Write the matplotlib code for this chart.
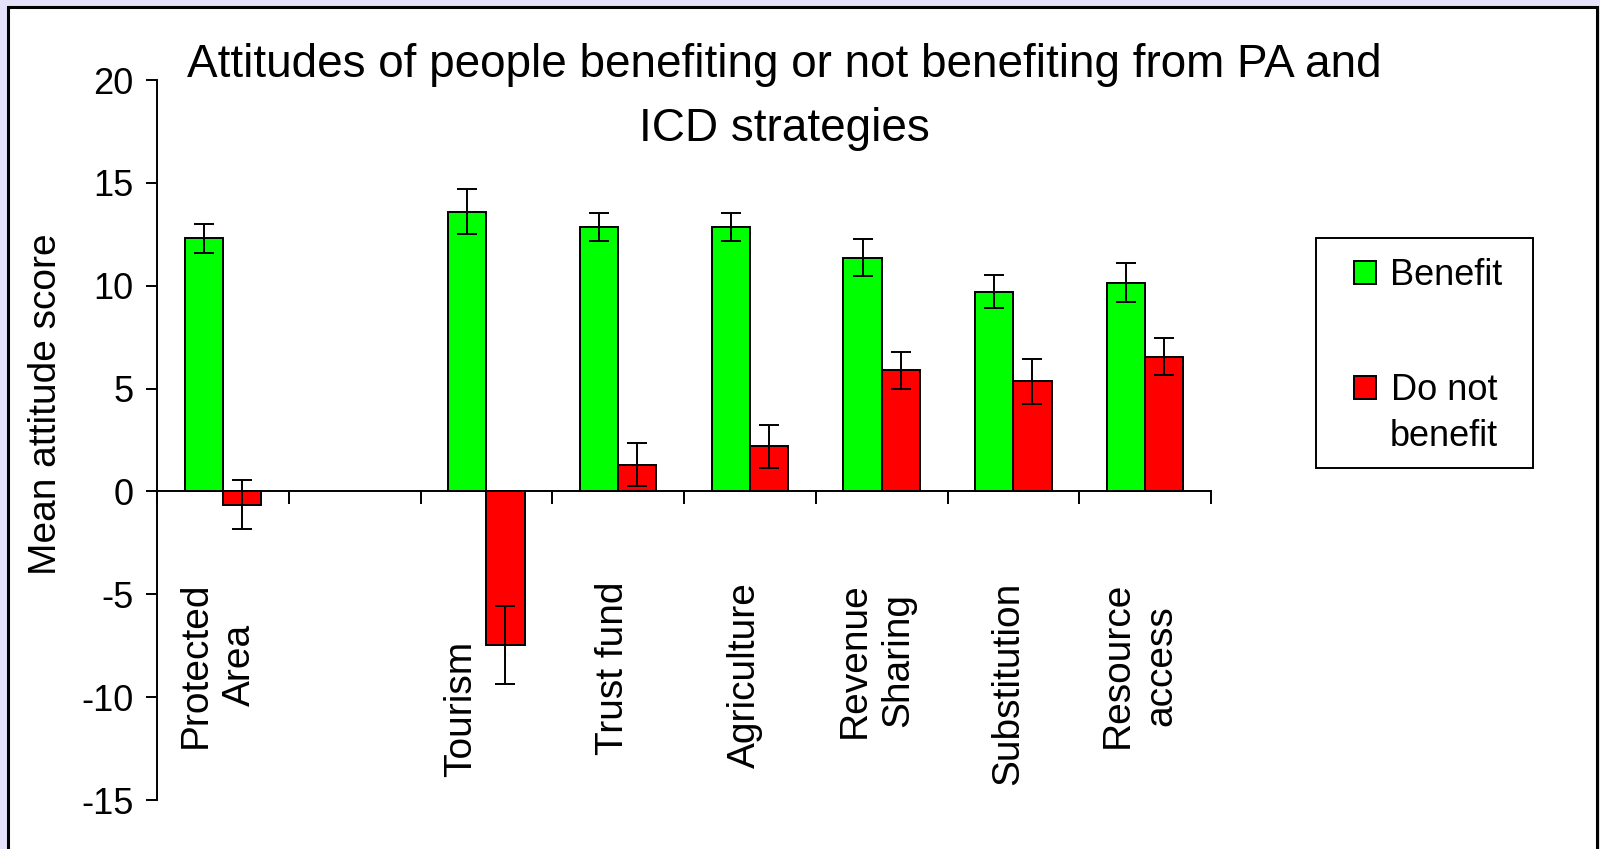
import matplotlib.pyplot as plt
import matplotlib.patches as mpatches
import numpy as np

plt.rcParams['font.family'] = ['Liberation Sans', 'DejaVu Sans']

# data
categories = ['Protected\nArea', '', 'Tourism', 'Trust fund', 'Agriculture',
              'Revenue\nSharing', 'Substitution', 'Resource\naccess']
benefit = [12.3, np.nan, 13.6, 12.85, 12.85, 11.35, 9.7, 10.15]
benefit_err = [0.7, np.nan, 1.1, 0.7, 0.7, 0.9, 0.8, 0.95]
no_benefit = [-0.65, np.nan, -7.45, 1.3, 2.2, 5.9, 5.35, 6.55]
no_benefit_err = [1.2, np.nan, 1.9, 1.05, 1.05, 0.9, 1.1, 0.9]
series_names = ['Benefit', 'Do not\nbenefit']
yticks = [-15, -10, -5, 0, 5, 10, 15, 20]

colors = {
    'bg': '#E6E1FA',
    'green': '#00FF00',
    'red': '#FF0000',
}

W, H = 1600, 849
fig = plt.figure(figsize=(16, 8.49), dpi=100, facecolor=colors['bg'])

# pixel -> figure fraction helpers
def fx(px):
    return px / W

def fy(py):
    return 1 - py / H

# white panel with black frame (runs off the bottom edge)
fig.patches.append(mpatches.Rectangle((fx(8), -0.05), fx(1597 - 8), 1.05 - 7 / H,
                                      transform=fig.transFigure, facecolor='white',
                                      edgecolor='black', lw=2.2, zorder=-1))

ax = fig.add_axes([fx(157), fy(800), fx(1211 - 157), 720 / H])
ax.set_facecolor('none')
ax.set_zorder(1)

x = np.arange(len(categories))
w = 0.29
err_kw = dict(ecolor='black', elinewidth=1.4, capsize=7, capthick=1.4)
ax.bar(x - w / 2, benefit, w, yerr=benefit_err, color=colors['green'],
       edgecolor='black', lw=1.4, error_kw=err_kw, zorder=2)
ax.bar(x + w / 2, no_benefit, w, yerr=no_benefit_err, color=colors['red'],
       edgecolor='black', lw=1.4, error_kw=err_kw, zorder=2)

ax.set_xlim(-0.5, len(categories) - 0.5)
ax.set_ylim(-15, 20)
ax.set_yticks(yticks)
ax.set_yticklabels([str(t) for t in yticks], fontsize=26)
ax.tick_params(axis='y', length=8, width=1.4, pad=9)

# x axis sits on zero, ticks between categories
ax.spines['bottom'].set_position(('data', 0))
ax.spines['top'].set_visible(False)
ax.spines['right'].set_visible(False)
for s in ['left', 'bottom']:
    ax.spines[s].set_linewidth(1.4)
ax.set_xticks(np.arange(len(categories) + 1) - 0.5)
ax.set_xticklabels([])
ax.tick_params(axis='x', direction='out', length=9, width=1.4)

# category labels, rotated, below the zero line
for i, lab in enumerate(categories):
    if not lab:
        continue
    dx, top = -0.04, -4.4
    if lab == 'Tourism':
        dx, top = -0.19, -7.25
    ax.text(i + dx, top, lab, rotation=90, ha='center', va='top',
            multialignment='center', fontsize=28, linespacing=1.28)

ax.set_ylabel('Mean attitude score', fontsize=28)
ax.yaxis.set_label_coords(-0.088, 0.55)

fig.text(fx(784), fy(97),
         'Attitudes of people benefiting or not benefiting from PA and\nICD strategies',
         ha='center', va='center', fontsize=33, linespacing=1.6)

# legend drawn by hand so the red key sits beside the first text line
fig.patches.append(mpatches.Rectangle((fx(1316), fy(468)), fx(1533 - 1316),
                                      fy(238) - fy(468), transform=fig.transFigure,
                                      facecolor='white', edgecolor='black', lw=1.4))
key_rows = [273, 388]
for name, col, row in zip(series_names, [colors['green'], colors['red']], key_rows):
    fig.patches.append(mpatches.Rectangle((fx(1354), fy(row + 11)), fx(22), 23 / H,
                                          transform=fig.transFigure, facecolor=col,
                                          edgecolor='black', lw=1.4))
    fig.text(fx(1390), fy(row - 15), name, ha='left', va='top',
             multialignment='center', fontsize=26, linespacing=1.42)

fig.savefig('out.png', dpi=100, facecolor=fig.get_facecolor())
plt.close()
